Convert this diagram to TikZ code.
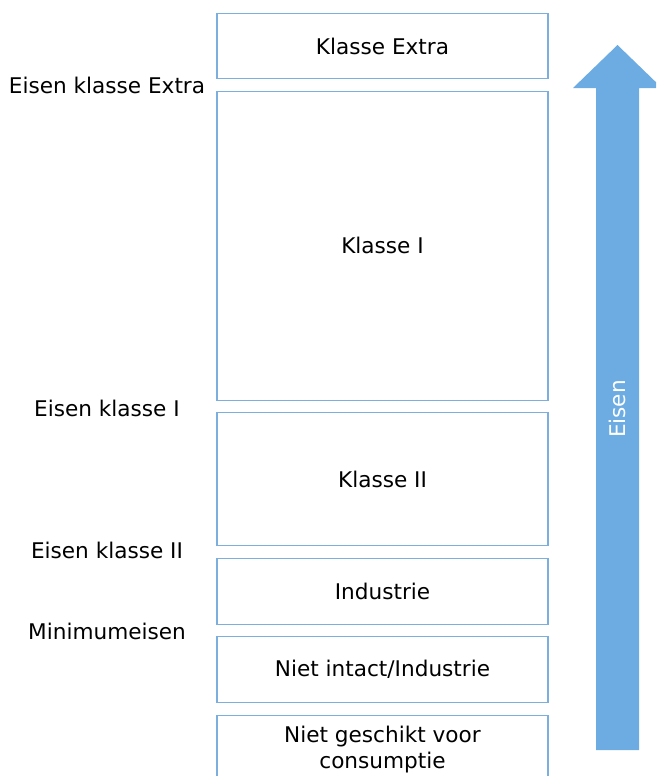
\documentclass[tikz,border=0pt]{standalone}
\usepackage{fontspec}
\setmainfont{DejaVu Sans}
\usetikzlibrary{positioning}
\definecolor{boxline}{RGB}{125,175,222}
\definecolor{arrowblue}{RGB}{108,172,227}

\tikzset{
    klasse/.style={draw=boxline, line width=1.2pt, minimum width=331pt, inner sep=0pt, align=center, font=\fontsize{21.6}{26}\selectfont},
    eis/.style={font=\fontsize{21.6}{26}\selectfont}
}

\begin{document}
\begin{tikzpicture}[x=1pt, y=-1pt, node distance=11.3pt]
        \useasboundingbox (0, 0) rectangle (656, 776);
        \clip (0, 0) rectangle (656, 776);

        \node[klasse, anchor=north, minimum height=65pt] (extra) at (382.5, 13) {Klasse Extra};
        \node[klasse, below=of extra, minimum height=309pt] (een) {Klasse I};
        \node[klasse, below=of een, minimum height=133pt] (twee) {Klasse II};
        \node[klasse, below=of twee, minimum height=66pt] (industrie) {Industrie};
        \node[klasse, below=of industrie, minimum height=66pt] (intact) {Niet intact/Industrie};
        \node[klasse, below=of intact, minimum height=68pt] (ongeschikt) {Niet geschikt voor\\consumptie};

        %%%

        \node[eis] (eisextra) at (107, 85) {Eisen klasse Extra};
        \node[eis] (eiseen) at (107, 408) {Eisen klasse I};
        \node[eis] (eistwee) at (107, 550) {Eisen klasse II};
        \node[eis] (minimum) at (107, 631) {Minimumeisen};

        %%%

        \fill[arrowblue] (596, 750) -- (596, 88) -- (573, 88) -- (617.5, 45) -- (662, 88) -- (639, 88) -- (639, 750) -- cycle;
        \node[eis, white, rotate=90] (eisen) at (617.5, 409) {Eisen};
    \end{tikzpicture}
\end{document}
